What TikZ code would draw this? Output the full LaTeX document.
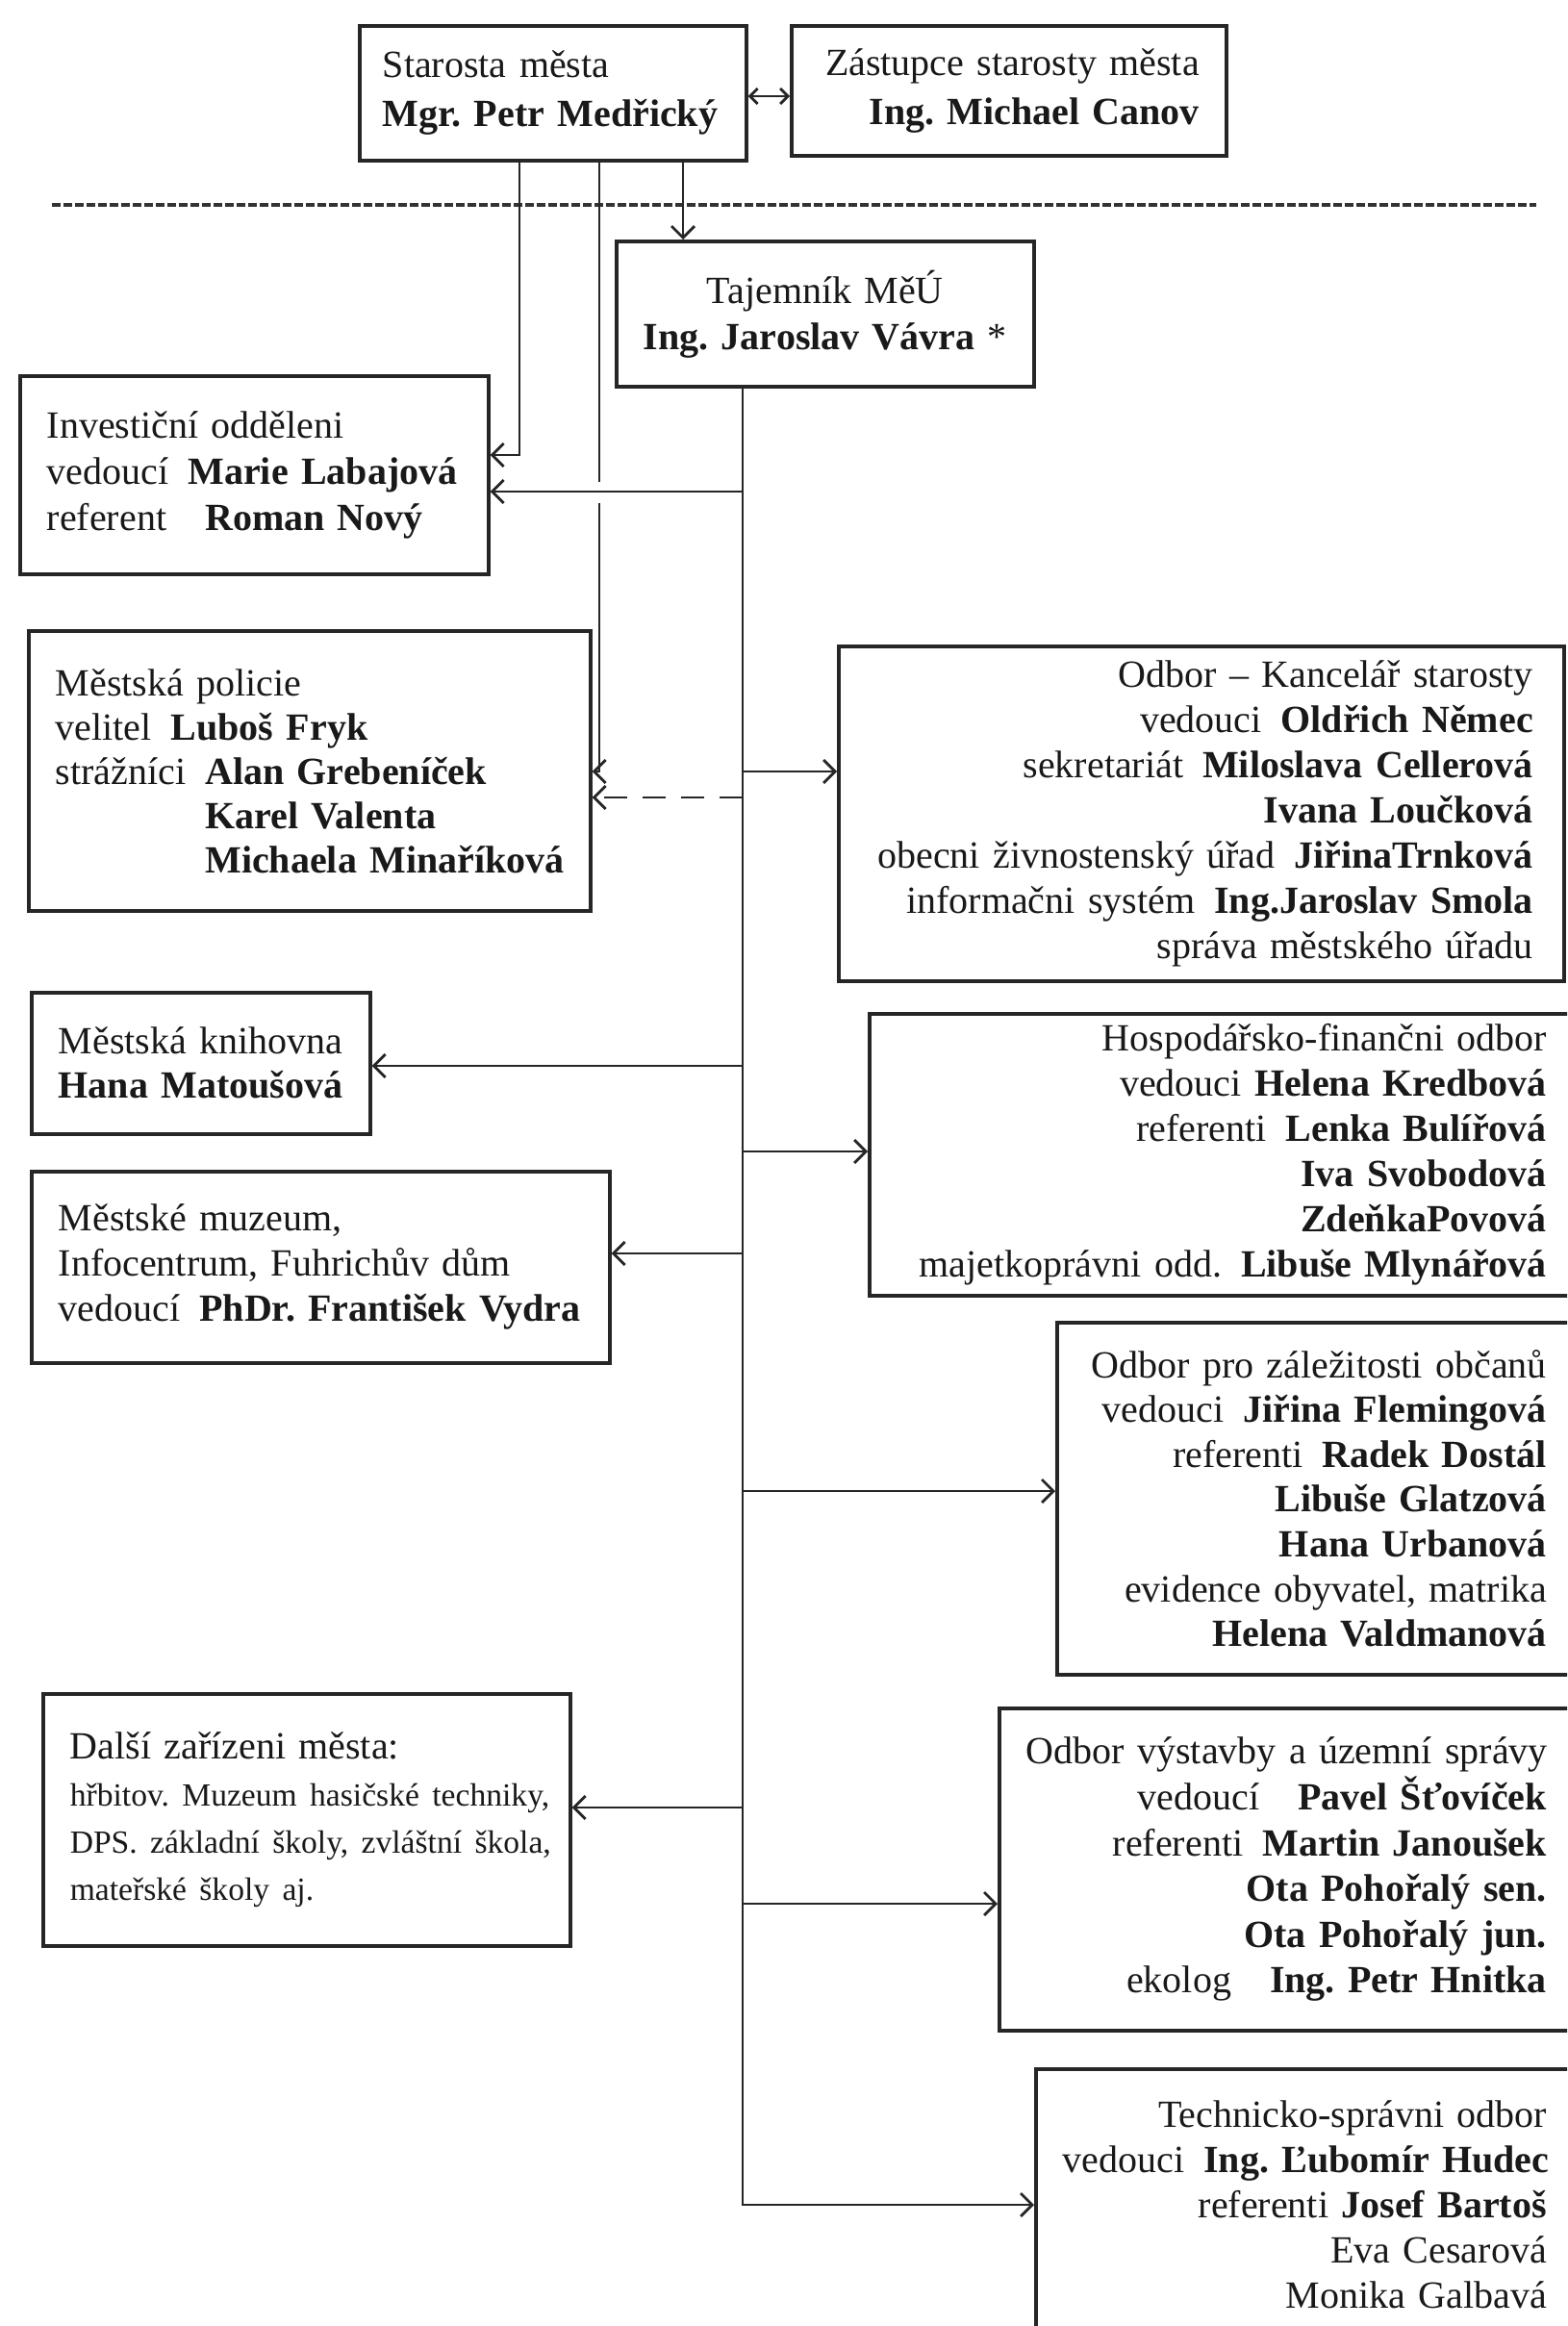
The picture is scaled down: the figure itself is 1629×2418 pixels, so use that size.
\documentclass[tikz,border=0pt]{standalone}
\usepackage{fontspec}
\setmainfont{Liberation Serif}
\usetikzlibrary{arrows.meta}
\newcommand{\odstup}{\kern0.5em}
\frenchspacing
\hyphenpenalty=10000
\exhyphenpenalty=10000

\begin{document}
\begin{tikzpicture}[
    x=0.5pt, y=-0.5pt,
    vazba/.style={line width=1.4pt, black!85},
    sipka/.style={vazba, -{Straight Barb[length=6pt, width=12pt]}},
    oboustr/.style={vazba, {Straight Barb[length=4pt, width=8pt]}-{Straight Barb[length=4pt, width=8pt]}},
    predel/.style={line width=1.6pt, black!80, dash pattern=on 4.5pt off 1.5pt},
    utvar/.style={draw=black!85, line width=1.8pt, anchor=north west, inner xsep=14pt, inner ysep=0pt,
                  font=\fontsize{20}{23.5}\selectfont, text=black!90},
    vlevo/.style={utvar, align=left},
    vpravo/.style={utvar, align=right}
    ]
    \useasboundingbox (0,0) rectangle (1629,2418);
    \clip (0,0) rectangle (1629,2418);
    \fill[white] (0,0) rectangle (1629,2418);

    % Vedení města
    \node[vlevo, inner xsep=12pt, minimum width=201pt, minimum height=70pt, text width=177pt,
          font=\fontsize{20}{25.5}\selectfont] (starosta) at (372,25)
        {Starosta města\\\textbf{Mgr.~Petr~Medřický}};
    \node[vpravo, minimum width=226pt, minimum height=67.5pt, text width=198pt,
          font=\fontsize{20}{25.5}\selectfont] (zastupce) at (821,25)
        {Zástupce~starosty~města\\\textbf{Ing.~Michael~Canov}};
    \node[utvar, align=center, minimum width=217pt, minimum height=75.5pt, text width=189pt,
          font=\fontsize{20}{24}\selectfont] (tajemnik) at (639,249)
        {Tajemník MěÚ\\\textbf{Ing.~Jaroslav~Vávra}~*};

    % Oddělení vlevo
    \node[vlevo, minimum width=243.5pt, minimum height=103pt, text width=215.5pt,
          font=\fontsize{20}{24}\selectfont] (invest) at (19,389)
        {Investiční odděleni\\vedoucí\odstup\textbf{Marie~Labajová}\\referent\kern1em\textbf{Roman~Nový}};
    \node[vlevo, minimum width=292pt, minimum height=145.5pt, text width=264pt,
          font=\fontsize{20}{23}\selectfont] (policie) at (28,654)
        {Městská policie\\velitel\odstup\textbf{Luboš~Fryk}\\strážníci\odstup\textbf{Alan~Grebeníček}\\
         \phantom{strážníci}\odstup\textbf{Karel~Valenta}\\\phantom{strážníci}\odstup\textbf{Michaela~Minaříková}};
    \node[vlevo, minimum width=176pt, minimum height=73.5pt, text width=148pt,
          font=\fontsize{20}{23}\selectfont] (knihovna) at (31,1030)
        {Městská~knihovna\\\textbf{Hana~Matoušová}};
    \node[vlevo, minimum width=300.5pt, minimum height=99.5pt, text width=272.5pt] (muzeum) at (31,1216)
        {Městské muzeum,\\Infocentrum, Fuhrichův dům\\vedoucí\odstup\textbf{PhDr.~František~Vydra}};
    \node[vlevo, minimum width=274pt, minimum height=131pt, text width=246pt,
          font=\fontsize{20}{24.5}\selectfont] (dalsi) at (43,1759)
        {Další zařízeni města:\\{\fontsize{16.8}{24.5}\selectfont hřbitov.~Muzeum~hasičské~techniky,\\
         DPS.~základní~školy,~zvláštní~škola,\\mateřské~školy~aj.}};

    % Odbory vpravo
    \node[vpravo, inner xsep=16pt, minimum width=377pt, minimum height=174pt, text width=345pt] (kancelar) at (870,670)
        {Odbor – Kancelář starosty\\vedouci\odstup\textbf{Oldřich~Němec}\\
         sekretariát\odstup\textbf{Miloslava~Cellerová}\\\textbf{Ivana~Loučková}\\
         obecni~živnostenský~úřad\odstup\textbf{JiřinaTrnková}\\
         informačni~systém\odstup\textbf{Ing.Jaroslav~Smola}\\správa městského úřadu};
    \node[vpravo, minimum width=366pt, minimum height=146.5pt, text width=338pt] (hospodar) at (902,1052)
        {Hospodářsko-finančni odbor\\vedouci~\textbf{Helena~Kredbová}\\referenti\odstup\textbf{Lenka~Bulířová}\\
         \textbf{Iva~Svobodová}\\\textbf{ZdeňkaPovová}\\majetkoprávni~odd.\odstup\textbf{Libuše~Mlynářová}};
    \node[vpravo, minimum width=268.5pt, minimum height=183pt, text width=240.5pt,
          font=\fontsize{20}{23.3}\selectfont] (obcane) at (1097,1373)
        {Odbor~pro~záležitosti~občanů\\vedouci\odstup\textbf{Jiřina~Flemingová}\\referenti\odstup\textbf{Radek~Dostál}\\
         \textbf{Libuše~Glatzová}\\\textbf{Hana~Urbanová}\\evidence~obyvatel,~matrika\\\textbf{Helena~Valdmanová}};
    \node[vpravo, minimum width=298.5pt, minimum height=167.5pt, text width=270.5pt,
          font=\fontsize{20}{23.8}\selectfont] (vystavba) at (1037,1774)
        {Odbor~výstavby~a~územní~správy\\vedoucí\kern1em\textbf{Pavel~Šťovíček}\\
         referenti\odstup\textbf{Martin~Janoušek}\\\textbf{Ota~Pohořalý~sen.}\\\textbf{Ota~Pohořalý~jun.}\\
         ekolog\kern1em\textbf{Ing.~Petr~Hnitka}};
    \node[vpravo, minimum width=279.5pt, minimum height=140.5pt, text width=251.5pt] (technicky) at (1075,2149)
        {Technicko-správni~odbor\\vedouci\odstup\textbf{Ing.~Ľubomír~Hudec}\\referenti~\textbf{Josef~Bartoš}\\
         Eva~Cesarová\\Monika~Galbavá};

    % Předěl
    \draw[predel] (54,213) -- (1597,213);

    % Vazby od starosty
    \draw[oboustr] (starosta.east |- 0,100) -- (zastupce.west |- 0,100);
    \draw[sipka] (starosta.south -| 710,0) -- (tajemnik.north -| 710,0);
    \draw[sipka] (starosta.south -| 540,0) |- (invest.east |- 0,473);
    \draw[vazba] (starosta.south -| 623,0) -- (623,501);
    \draw[sipka] (623,523) |- (policie.east |- 0,802);

    % Kmen od tajemníka
    \coordinate (kmen) at (tajemnik.south -| 772,0);
    \draw[sipka] (kmen) |- (technicky.west |- 0,2292);
    \foreach \cil/\y in {invest/511, knihovna/1108, muzeum/1303, dalsi/1879}
        \draw[sipka] (kmen |- 0,\y) -- (\cil.east |- 0,\y);
    \foreach \cil/\y in {kancelar/802, hospodar/1197, obcane/1550, vystavba/1979}
        \draw[sipka] (kmen |- 0,\y) -- (\cil.west |- 0,\y);
    \draw[sipka, dash pattern=on 12pt off 8pt] (kmen |- 0,829) -- (policie.east |- 0,829);

\end{tikzpicture}
\end{document}
